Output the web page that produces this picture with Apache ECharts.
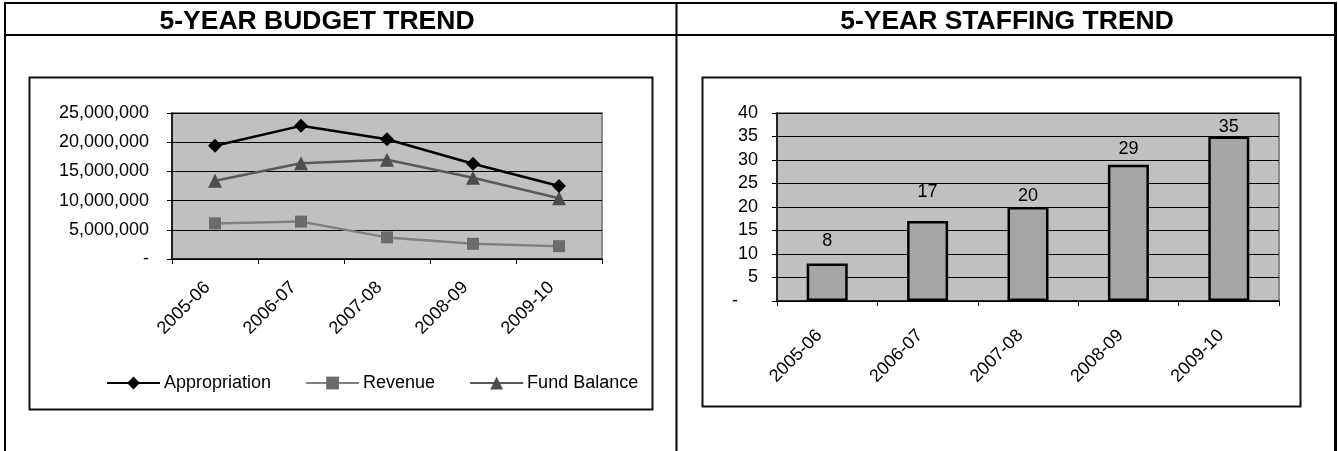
<!DOCTYPE html>
<html>
<head>
<meta charset="utf-8">
<script src="https://cdn.jsdelivr.net/npm/echarts@6/dist/echarts.min.js"></script>
<style>
  html, body { margin: 0; padding: 0; background: #fff; }
  #chart { width: 1338px; height: 451px; }
</style>
</head>
<body>
<div id="chart"></div>
<script>
// Fiscal years shown on both charts
const years = ['2005-06', '2006-07', '2007-08', '2008-09', '2009-10'];

// Budget trend (dollars)
const appropriation = [19400000, 22800000, 20500000, 16300000, 12500000];
const revenue       = [6100000, 6400000, 3700000, 2600000, 2200000];
const fundBalance   = [13400000, 16400000, 17000000, 13900000, 10400000];

// Staffing trend (positions)
const staffing = [8, 17, 20, 29, 35];

const panelTitles = ['5-YEAR BUDGET TREND', '5-YEAR STAFFING TREND'];

const FONT = '"Liberation Sans", Arial, sans-serif';
const axisText = { color: '#000', fontSize: 18, fontFamily: FONT };

// how far each staffing value label floats above its column
const staffLabelGap = [13, 20, 2, 7, 0];

const chart = echarts.init(document.getElementById('chart'), null, { renderer: 'canvas' });

function line(x1, y1, x2, y2, w) {
  return { type: 'line', silent: true, z: 100,
    shape: { x1, y1, x2, y2 }, style: { stroke: '#000', lineWidth: w } };
}

const option = {
  animation: false,
  backgroundColor: '#fff',
  graphic: [
    // table rules
    line(4, 3, 1337, 3, 2),
    line(4, 35, 1337, 35, 2),
    line(5, 2, 5, 451, 2),
    line(676.5, 2, 676.5, 451, 2),
    line(1335.5, 2, 1335.5, 451, 3),
    // chart frames
    { type: 'rect', silent: true, z: 1,
      shape: { x: 29.5, y: 77.5, width: 623, height: 332 },
      style: { fill: 'none', stroke: '#111', lineWidth: 2 } },
    { type: 'rect', silent: true, z: 1,
      shape: { x: 702.5, y: 77.5, width: 598, height: 329 },
      style: { fill: 'none', stroke: '#111', lineWidth: 2 } },
    // panel headings
    { type: 'text', z: 100, style: { x: 317, y: 22, text: panelTitles[0], textAlign: 'center',
      textVerticalAlign: 'middle', fill: '#000', font: 'bold 26.5px ' + FONT } },
    { type: 'text', z: 100, style: { x: 1007, y: 22, text: panelTitles[1], textAlign: 'center',
      textVerticalAlign: 'middle', fill: '#000', font: 'bold 26.5px ' + FONT } }
  ],
  legend: {
    data: ['Appropriation', 'Revenue', 'Fund Balance'],
    left: 106, top: 374, padding: 0,
    itemWidth: 53, itemHeight: 16, itemGap: 34,
    textStyle: { color: '#000', fontSize: 18, fontFamily: FONT, padding: [0, 0, 0, -1] },
    selectedMode: false
  },
  grid: [
    { left: 172, top: 113, width: 430, height: 146, show: true,
      backgroundColor: '#c0c0c0', borderColor: '#8a8a8a', borderWidth: 2 },
    { left: 777, top: 113, width: 502, height: 188, show: true,
      backgroundColor: '#c0c0c0', borderColor: '#8a8a8a', borderWidth: 2 }
  ],
  xAxis: [
    { type: 'category', gridIndex: 0, data: years, boundaryGap: true,
      axisLine: { lineStyle: { color: '#000', width: 1.5 } },
      axisTick: { show: true, length: 5, lineStyle: { color: '#000' } },
      axisLabel: Object.assign({ rotate: 45, interval: 0, margin: 18, padding: [0, 11, 0, 0] }, axisText) },
    { type: 'category', gridIndex: 1, data: years, boundaryGap: true,
      axisLine: { lineStyle: { color: '#000', width: 1.5 } },
      axisTick: { show: true, length: 5, lineStyle: { color: '#000' } },
      axisLabel: Object.assign({ rotate: 45, interval: 0, margin: 24, padding: [0, 11, 0, 0] }, axisText) }
  ],
  yAxis: [
    { type: 'value', gridIndex: 0, min: 0, max: 25000000, interval: 5000000,
      axisLine: { show: true, lineStyle: { color: '#000', width: 1.5 } },
      axisTick: { show: true, length: 5, lineStyle: { color: '#000' } },
      splitLine: { lineStyle: { color: '#000', width: 1 } },
      axisLabel: Object.assign({ margin: 23,
        formatter: v => v === 0 ? '-' : v.toLocaleString('en-US') }, axisText) },
    { type: 'value', gridIndex: 1, min: 0, max: 40, interval: 5,
      axisLine: { show: true, lineStyle: { color: '#000', width: 1.5 } },
      axisTick: { show: true, length: 5, lineStyle: { color: '#000' } },
      splitLine: { lineStyle: { color: '#000', width: 1 } },
      axisLabel: Object.assign({ margin: 19,
        formatter: v => v === 0 ? '-    ' : String(v) }, axisText) }
  ],
  series: [
    { name: 'Appropriation', type: 'line', xAxisIndex: 0, yAxisIndex: 0, data: appropriation,
      symbol: 'diamond', symbolSize: 14,
      itemStyle: { color: '#000' }, lineStyle: { color: '#000', width: 2.5 }, z: 5 },
    { name: 'Revenue', type: 'line', xAxisIndex: 0, yAxisIndex: 0, data: revenue,
      symbol: 'rect', symbolSize: 12,
      itemStyle: { color: '#6b6b6b' }, lineStyle: { color: '#808080', width: 2.5 }, z: 3 },
    { name: 'Fund Balance', type: 'line', xAxisIndex: 0, yAxisIndex: 0, data: fundBalance,
      symbol: 'triangle', symbolSize: 14,
      itemStyle: { color: '#4d4d4d' }, lineStyle: { color: '#5a5a5a', width: 2.5 }, z: 4 },
    { name: 'Staffing', type: 'bar', xAxisIndex: 1, yAxisIndex: 1, barWidth: 41,
      data: staffing.map((v, i) => ({ value: v, label: { distance: staffLabelGap[i] } })),
      itemStyle: { color: '#a6a6a6', borderColor: '#000', borderWidth: 2.5 },
      label: { show: true, position: 'top', color: '#000', fontSize: 18, fontFamily: FONT } }
  ]
};

chart.setOption(option);
</script>
</body>
</html>
